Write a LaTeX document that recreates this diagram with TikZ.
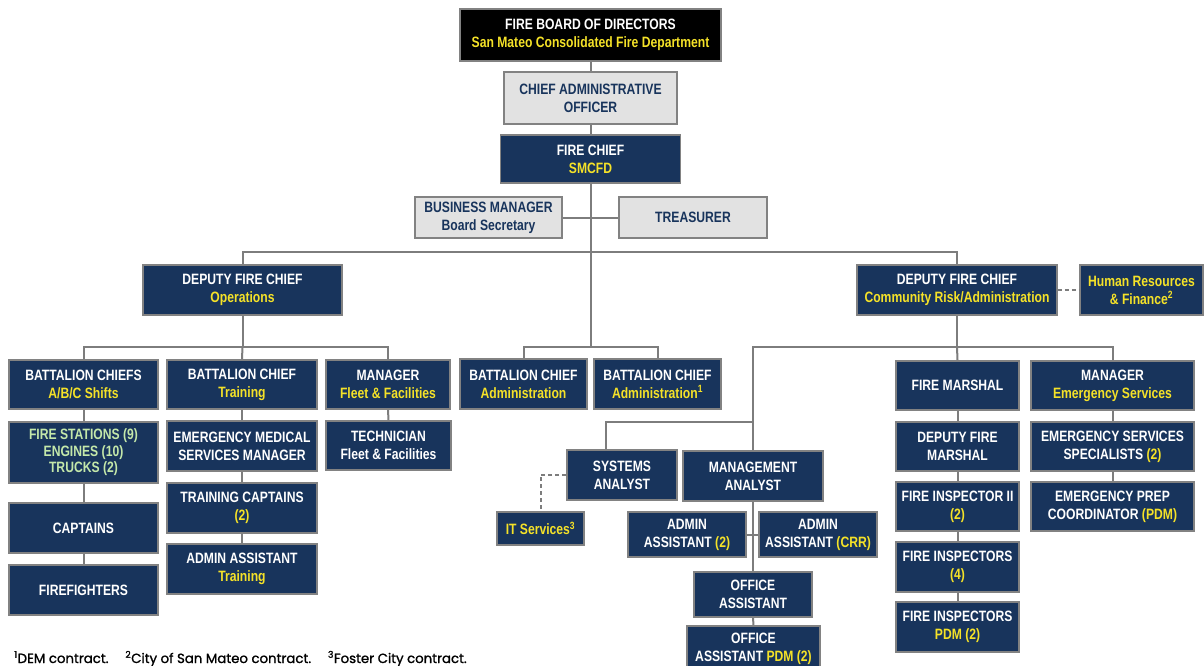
\documentclass[tikz,border=0pt]{standalone}
\usepackage{fontspec}
\newfontfamily\boxfont{Liberation Sans}[FakeStretch=0.81]
\newfontfamily\footfont{Poppins}[FakeBold=1.2]
\definecolor{navy}{RGB}{24,52,92}
\definecolor{ylw}{RGB}{245,226,40}
\definecolor{grn}{RGB}{196,232,170}
\definecolor{lgray}{RGB}{226,226,226}
\definecolor{bord}{RGB}{130,130,130}
\definecolor{conn}{RGB}{125,125,125}
\newcommand\yel[1]{\textcolor{ylw}{#1}}
\tikzset{
  box/.style={draw=bord, line width=1.6pt, fill=navy, text=white, align=center, inner sep=0pt,
    font=\boxfont\bfseries\fontsize{15}{18}\selectfont},
  gbox/.style={box, fill=lgray, text=navy},
  kbox/.style={box, fill=black},
  ln/.style={draw=conn, line width=2pt},
  dln/.style={ln, dash pattern=on 4pt off 3pt},
}
\newcommand\bx[6]{\node[#1, minimum width=#4, minimum height=#5] (#2) at #3 {#6};}
\begin{document}
\begin{tikzpicture}[x=1pt,y=-1pt]
\clip (0,0) rectangle (1204,666);
\fill[white] (0,0) rectangle (1204,666);
% top
\bx{kbox}{board}{(590.5,35)}{261}{52}{FIRE BOARD OF DIRECTORS\\ \yel{San Mateo Consolidated Fire Department}}
\bx{gbox}{cao}{(590.5,98)}{173}{52}{CHIEF ADMINISTRATIVE\\ OFFICER}
\bx{box}{chief}{(590.5,159)}{180}{48}{FIRE CHIEF\\ \yel{SMCFD}}
\bx{gbox}{bm}{(488.5,217.5)}{147}{41}{BUSINESS MANAGER\\ Board Secretary}
\bx{gbox}{tr}{(693,217.5)}{148}{41}{TREASURER}
% deputies
\bx{box}{depops}{(242.5,290)}{199}{50}{DEPUTY FIRE CHIEF\\ \yel{Operations}}
\bx{box}{depcra}{(957,290)}{200}{50}{DEPUTY FIRE CHIEF\\ \yel{Community Risk/Administration}}
\bx{box}{hr}{(1141.5,290)}{123}{50}{\yel{Human Resources}\\ \yel{\& Finance\textsuperscript{2}}}
% operations
\bx{box}{bcabc}{(83.5,384.5)}{149}{49}{BATTALION CHIEFS\\ \yel{A/B/C Shifts}}
\bx{box}{bctr}{(242,384.5)}{150}{49}{BATTALION CHIEF\\ \yel{Training}}
\bx{box}{mgrfl}{(388,384.5)}{124}{49}{MANAGER\\ \yel{Fleet \& Facilities}}
\bx{box, font=\boxfont\bfseries\fontsize{15}{16.5}\selectfont}{fs}{(83.5,452.5)}{149}{61}{\textcolor{grn}{FIRE STATIONS (9)}\\ \textcolor{grn}{ENGINES (10)}\\ \textcolor{grn}{TRUCKS (2)}}
\bx{box}{ems}{(242,446)}{150}{50}{EMERGENCY MEDICAL\\ SERVICES MANAGER}
\bx{box}{tech}{(388.5,445.5)}{125}{49}{TECHNICIAN\\ Fleet \& Facilities}
\bx{box}{capt}{(83.5,528)}{149}{50}{CAPTAINS}
\bx{box}{ff}{(83.5,590)}{149}{50}{FIREFIGHTERS}
\bx{box}{trcap}{(242,508)}{150}{50}{TRAINING CAPTAINS\\ \yel{(2)}}
\bx{box}{aatr}{(242,569)}{150}{50}{ADMIN ASSISTANT\\ \yel{Training}}
% admin battalion chiefs
\bx{box}{bcadm}{(523.5,384)}{127}{50}{BATTALION CHIEF\\ \yel{Administration}}
\bx{box}{bcadmb}{(657.5,384)}{127}{50}{BATTALION CHIEF\\ \yel{Administration\textsuperscript{1}}}
% analysts
\bx{box}{sys}{(622,475)}{110}{50}{SYSTEMS\\ ANALYST}
\bx{box}{mgmt}{(753,476)}{140}{50}{MANAGEMENT\\ ANALYST}
\bx{box}{it}{(540.5,528.5)}{87}{33}{\yel{IT Services\textsuperscript{3}}}
\bx{box}{aatwo}{(687,534.5)}{118}{45}{ADMIN\\ ASSISTANT \yel{(2)}}
\bx{box}{aacrr}{(818,534.5)}{118}{45}{ADMIN\\ ASSISTANT \yel{(CRR)}}
\bx{box}{oa}{(753,594.5)}{118}{45}{OFFICE\\ ASSISTANT}
\bx{box}{oapdm}{(753.5,648.5)}{133}{45}{OFFICE\\ ASSISTANT \yel{PDM (2)}}
% community risk
\bx{box}{fm}{(957.5,385.5)}{123}{49}{FIRE MARSHAL}
\bx{box}{dfm}{(957.5,446.5)}{123}{49}{DEPUTY FIRE\\ MARSHAL}
\bx{box}{fitwo}{(957.5,506.5)}{123}{49}{FIRE INSPECTOR II\\ \yel{(2)}}
\bx{box}{fifour}{(957.5,567)}{123}{50}{FIRE INSPECTORS\\ \yel{(4)}}
\bx{box}{fipdm}{(957.5,627)}{123}{50}{FIRE INSPECTORS\\ \yel{PDM (2)}}
\bx{box}{mes}{(1112.5,385.5)}{163}{49}{MANAGER\\ \yel{Emergency Services}}
\bx{box}{ess}{(1112.5,446.5)}{163}{49}{EMERGENCY SERVICES\\ SPECIALISTS \yel{(2)}}
\bx{box}{epc}{(1112.5,506.5)}{163}{49}{EMERGENCY PREP\\ COORDINATOR \yel{(PDM)}}
% connectors
\coordinate (tj) at (590.5,347);
\coordinate (hl) at (242.5,252);
\coordinate (hr0) at (957,252);
\draw[ln] (board.south) -- (cao.north);
\draw[ln] (cao.south) -- (chief.north);
\draw[ln] (chief.south) -- (tj);
\draw[ln] (bm.east) -- (tr.west);
\draw[ln] (depops.north) -- (hl) -- (hr0) -- (depcra.north);
\draw[ln] (bcadm.north) |- (tj) -| (bcadmb.north);
\coordinate (opsj) at (242.5,347);
\draw[ln] (depops.south) -- (opsj);
\draw[ln] (bcabc.north) |- (opsj) -| (mgrfl.north);
\draw[ln] (opsj) -- (bctr.north);
\draw[ln] (bcabc.south) -- (fs.north);
\draw[ln] (fs.south) -- (capt.north);
\draw[ln] (capt.south) -- (ff.north);
\draw[ln] (bctr.south) -- (ems.north);
\draw[ln] (ems.south) -- (trcap.north);
\draw[ln] (trcap.south) -- (aatr.north);
\draw[ln] (mgrfl.south) -- (tech.north);
\coordinate (craj) at (957,347);
\coordinate (maj) at (753,422);
\coordinate (sysj) at (606,422);
\draw[ln] (depcra.south) -- (craj);
\draw[ln] (mgmt.north) |- (craj) -| (mes.north);
\draw[ln] (craj) -- (fm.north);
\draw[ln] (maj) -- (sysj) -- (sysj |- sys.north);
\draw[ln] (mgmt.south) -- (oa.north);
\draw[ln] (oa.south) -- (oapdm.north);
\draw[ln] (aatwo.east) -- (aacrr.west);
\draw[dln] (sys.west) -| (it.north);
\draw[dln] (depcra.east) -- (hr.west);
\draw[ln] (fm.south) -- (dfm.north);
\draw[ln] (dfm.south) -- (fitwo.north);
\draw[ln] (fitwo.south) -- (fifour.north);
\draw[ln] (fifour.south) -- (fipdm.north);
\draw[ln] (mes.south) -- (ess.north);
\draw[ln] (ess.south) -- (epc.north);
% footnote
\node[anchor=base west, inner sep=0pt, font=\footfont\fontsize{13.3}{15}\selectfont] (foot) at (14,663)
  {\textsuperscript{1}DEM contract.\quad\ \textsuperscript{2}City of San Mateo contract.\quad\ \textsuperscript{3}Foster City contract.};
\end{tikzpicture}
\end{document}
